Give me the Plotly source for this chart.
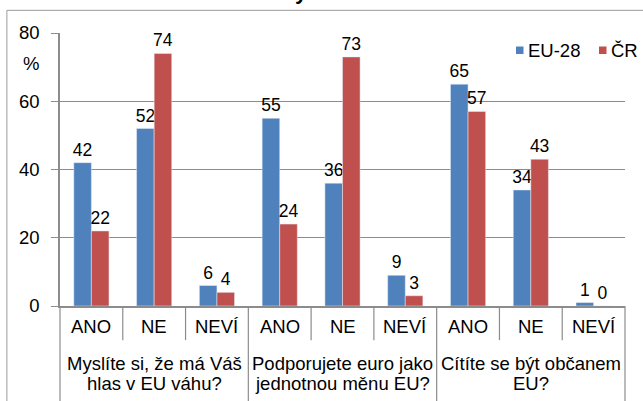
import plotly.graph_objects as go

groups = ["Myslíte si, že má Váš<br>hlas v EU váhu?",
          "Podporujete euro jako<br>jednotnou měnu EU?",
          "Cítíte se být občanem<br>EU?"]
answers = ["ANO", "NE", "NEVÍ"]
eu28 = [42, 52, 6, 55, 36, 9, 65, 34, 1]
cr = [22, 74, 4, 24, 73, 3, 57, 43, 0]
series_names = ["EU-28", "ČR"]
colors = ["#4F81BD", "#C0504D"]
y_ticks = [0, 20, 40, 60, 80]

xg = [g for g in groups for _ in answers]
xs = [a for _ in groups for a in answers]

FONT = "Liberation Sans, Arial, sans-serif"
LAB = 18.5
GRID = "#8c8c8c"
fig = go.Figure()
for name, vals, col in zip(series_names, [eu28, cr], colors):
    fig.add_trace(go.Bar(x=[xg, xs], y=vals, name=name, marker_color=col,
                         text=[str(v) for v in vals], textposition="outside",
                         constraintext="none",
                         textfont=dict(size=17.5, color="black", family=FONT),
                         cliponaxis=False, showlegend=False))

fig.update_layout(
    width=643, height=401,
    margin=dict(l=60, r=18, t=33, b=95),
    paper_bgcolor="white", plot_bgcolor="white",
    font=dict(family=FONT, size=LAB, color="black"),
    barmode="group", bargap=0.44, bargroupgap=0,
    xaxis=dict(type="multicategory", showline=True, linecolor=GRID, linewidth=1.5,
               ticks="", showticklabels=False, showdividers=False),
    yaxis=dict(range=[0, 80], tickvals=y_ticks, showgrid=True, gridcolor=GRID,
               gridwidth=1, ticks="outside", ticklen=7, tickcolor=GRID,
               ticklabelstandoff=8,
               showline=True, linecolor=GRID, linewidth=1.5, zeroline=False,
               tickfont=dict(size=LAB, color="black")),
)

n_cat = len(groups) * len(answers)
ppx = 565.0  # plot width px
ppy = 273.0  # plot height px

# category labels and separators
for i in range(n_cat + 1):
    is_group = (i % len(answers) == 0)
    fig.add_shape(type="line", xref="paper", yref="paper", x0=i / n_cat, x1=i / n_cat,
                  y0=0, y1=-0.36 if is_group else -0.125,
                  line=dict(color=GRID, width=1.2))
for i, a in enumerate(xs):
    fig.add_annotation(text=a, xref="paper", yref="paper", x=(i + 0.5) / n_cat, y=-0.075,
                       showarrow=False, font=dict(size=LAB), xanchor="center", yanchor="middle")
for j, g in enumerate(groups):
    for k, line in enumerate(g.split("<br>")):
        ypx = 363 + 21 * k
        fig.add_annotation(text=line, xref="paper", yref="paper", x=(j + 0.5) / len(groups),
                           y=(306 - ypx) / ppy, showarrow=False, font=dict(size=LAB),
                           xanchor="center", yanchor="middle")

# legend
leg = [(series_names[0], colors[0], 516), (series_names[1], colors[1], 599)]
for name, col, px in leg:
    x0 = (px - 60) / ppx
    fig.add_shape(type="rect", xref="paper", yref="paper",
                  x0=x0, x1=x0 + 7.5 / ppx, y0=(306 - 54) / ppy, y1=(306 - 46.5) / ppy,
                  fillcolor=col, line=dict(width=0))
    fig.add_annotation(text=name, xref="paper", yref="paper", x=(px + 11 - 60) / ppx,
                       y=(306 - 50) / ppy, showarrow=False, font=dict(size=LAB),
                       xanchor="left", yanchor="middle", xshift=-1)

fig.add_annotation(text="%", xref="paper", yref="paper", x=(31 - 60) / ppx, y=(306 - 63) / ppy,
                   showarrow=False, font=dict(size=LAB), xanchor="center", yanchor="middle")
fig.add_annotation(text="<b>y</b>", xref="paper", yref="paper", x=0.428, y=1.1,
                   showarrow=False, font=dict(size=22, family=FONT), xanchor="center",
                   yanchor="bottom")
fig.add_shape(type="rect", xref="paper", yref="paper", x0=-0.094, x1=1.2, y0=-0.6, y1=1.083,
              line=dict(color="#9a9a9a", width=1), layer="below")

fig.write_html("out.html", config={"displayModeBar": False},
               post_script="document.body.style.margin='0';document.body.style.overflow='hidden';")
